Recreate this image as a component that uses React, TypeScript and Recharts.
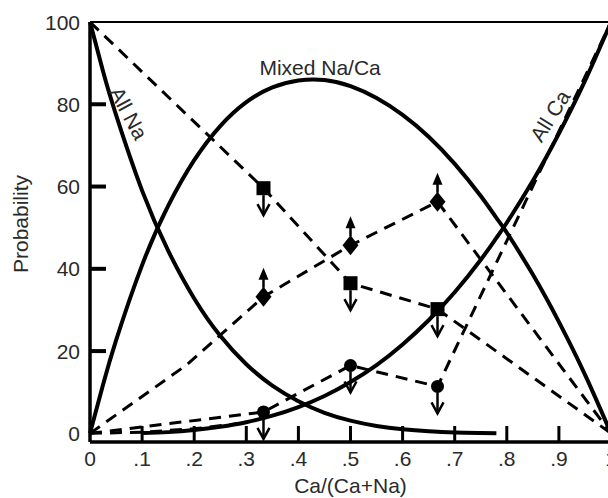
import React from 'react';
import { LineChart, Line, XAxis, YAxis, ReferenceLine, ReferenceDot } from 'recharts';

const FONT = '"Liberation Sans", Arial, Helvetica, sans-serif';
const INK = '#000';
const TEXT = '#2a2a2a';

// solid probability curves
const curveX = [0, 0.025, 0.05, 0.1, 0.15, 0.2, 0.25, 0.3, 0.35, 0.4, 0.45, 0.5, 0.55, 0.6, 0.65, 0.7, 0.75, 0.78, 0.8, 0.85, 0.9, 0.95, 1];
const allNa = [100, 88, 77.4, 59, 44.4, 32.8, 23.7, 16.8, 11.6, 7.8, 5.0, 3.1, 1.8, 1.0, 0.5, 0.2, 0.1, 0.05, null, null, null, null, null];
const mixed = [0, 11.8, 22.6, 40.9, 55.3, 66.4, 74.7, 80.5, 84.1, 85.8, 85.9, 84.4, 81.5, 77.4, 72.1, 65.5, 57.7, 52.4, 48.8, 38.6, 27.1, 14.3, 0];
const allCa = [null, null, null, 0.1, 0.3, 0.8, 1.6, 2.7, 4.3, 6.4, 9.1, 12.5, 16.6, 21.6, 27.5, 34.3, 42.2, 47.5, 51.2, 61.4, 72.9, 85.7, 100];

// measured points (dashed lines)
const markerX = [0.333, 0.5, 0.667];
const squareX = [0, 0.333, 0.5, 0.667, 1];
const squareY = [100, 59.6, 36.5, 30.2, 0];
const diamondX = [0, 0.185, 0.333, 0.5, 0.667, 1];
const diamondY = [0, 16.6, 33.2, 45.7, 56.3, 0];
const circleX = [0, 0.333, 0.5, 0.667, 1];
const circleY = [0, 5.2, 16.5, 11.4, 100];
const lowX = [0, 0.1, 0.2, 0.3];
const lowY = [0, 0.3, 1.1, 2.6];

const xTicks = [0, 0.1, 0.2, 0.3, 0.4, 0.5, 0.6, 0.7, 0.8, 0.9, 1];
const xTickLabels = ['0', '.1', '.2', '.3', '.4', '.5', '.6', '.7', '.8', '.9', '1'];
const yTicks = [0, 20, 40, 60, 80, 100];

const curveRows = curveX.map((x, i) => ({ x, na: allNa[i], mix: mixed[i], ca: allCa[i] }));
const toRows = (xs: number[], ys: number[]) => xs.map((x, i) => ({ x, y: ys[i] }));

const isMarker = (x: number) => markerX.includes(x);

function DownArrow({ cx, cy, from }: { cx: number; cy: number; from: number }) {
  return (
    <g stroke={INK} strokeWidth={2.5} fill="none">
      <line x1={cx} y1={cy + from} x2={cx} y2={cy + 27} />
      <polyline points={`${cx - 6},${cy + 16} ${cx},${cy + 27} ${cx + 6},${cy + 16}`} />
    </g>
  );
}

function renderSquare(p: any) {
  const { cx, cy, index, payload } = p;
  if (!isMarker(payload.x)) return <g key={`sq-${index}`} />;
  return (
    <g key={`sq-${index}`}>
      <rect x={cx - 7} y={cy - 7} width={14} height={14} fill={INK} />
      <DownArrow cx={cx} cy={cy} from={7} />
    </g>
  );
}

function renderCircle(p: any) {
  const { cx, cy, index, payload } = p;
  if (!isMarker(payload.x)) return <g key={`ci-${index}`} />;
  return (
    <g key={`ci-${index}`}>
      <circle cx={cx} cy={cy} r={6.5} fill={INK} />
      <DownArrow cx={cx} cy={cy} from={6} />
    </g>
  );
}

function renderDiamond(p: any) {
  const { cx, cy, index, payload } = p;
  if (!isMarker(payload.x)) return <g key={`di-${index}`} />;
  return (
    <g key={`di-${index}`}>
      <polygon points={`${cx},${cy - 10} ${cx + 8},${cy} ${cx},${cy + 10} ${cx - 8},${cy}`} fill={INK} />
      <line x1={cx} y1={cy - 9} x2={cx} y2={cy - 19} stroke={INK} strokeWidth={2.5} />
      <polygon points={`${cx - 5},${cy - 17} ${cx},${cy - 29} ${cx + 5},${cy - 17}`} fill={INK} />
    </g>
  );
}

function XTick({ x, y, payload }: any) {
  const v = payload.value;
  return (
    <g>
      {v > 0 && v < 1 && <line x1={x} x2={x} y1={y} y2={y - 16} stroke={INK} strokeWidth={3} />}
      <text x={x} y={y + 24} textAnchor="middle" fontSize={21} fontFamily={FONT} fill={TEXT}>
        {xTickLabels[Math.round(v * 10)]}
      </text>
    </g>
  );
}

function YTick({ x, y, payload }: any) {
  const v = payload.value;
  return (
    <g>
      {v > 0 && v < 100 && <line x1={x} x2={x + 16} y1={y} y2={y} stroke={INK} strokeWidth={4} />}
      <text x={x - 10} y={y + 7.5} textAnchor="end" fontSize={21} fontFamily={FONT} fill={TEXT}>
        {v}
      </text>
    </g>
  );
}

const curveLabel = (text: string, angle: number) => (p: any) => (
  <text
    x={p.cx}
    y={p.cy}
    transform={`rotate(${angle} ${p.cx} ${p.cy})`}
    textAnchor="middle"
    dominantBaseline="central"
    fontSize={21}
    fontFamily={FONT}
    fill={TEXT}
  >
    {text}
  </text>
);

export default function App() {
  return (
    <div style={{ position: 'fixed', left: 0, top: 0, width: 608, height: 498, overflow: 'hidden', background: '#fff' }}>
      <LineChart width={640} height={498} data={curveRows} margin={{ top: 22, right: 29, bottom: 0, left: 0 }}>
        <XAxis
          type="number"
          dataKey="x"
          domain={[0, 1]}
          ticks={xTicks}
          height={56}
          tickSize={0}
          tickMargin={0}
          tickLine={false}
          axisLine={{ stroke: INK, strokeWidth: 3.5 }}
          tick={<XTick />}
          label={{
            content: (props: any) => {
              const vb = props.viewBox || { x: 90, y: 442, width: 521, height: 56 };
              return (
                <text x={vb.x + vb.width / 2} y={vb.y + 51} textAnchor="middle" fontSize={21} fontFamily={FONT} fill={TEXT}>
                  Ca/(Ca+Na)
                </text>
              );
            },
          }}
        />
        <YAxis
          type="number"
          domain={[-2.1, 100]}
          ticks={yTicks}
          width={90}
          tickSize={0}
          tickMargin={0}
          tickLine={false}
          axisLine={{ stroke: INK, strokeWidth: 3.5 }}
          tick={<YTick />}
          label={{
            content: (props: any) => {
              const vb = props.viewBox || { x: 0, y: 22, width: 90, height: 420 };
              const cx = vb.x + 20;
              const cy = vb.y + 202;
              return (
                <text x={cx} y={cy} transform={`rotate(-90 ${cx} ${cy})`} textAnchor="middle" dominantBaseline="central" fontSize={21} fontFamily={FONT} fill={TEXT}>
                  Probability
                </text>
              );
            },
          }}
        />
        <ReferenceLine y={100} stroke={INK} strokeWidth={2} />

        <Line dataKey="na" type="natural" stroke={INK} strokeWidth={4} dot={false} isAnimationActive={false} />
        <Line dataKey="mix" type="natural" stroke={INK} strokeWidth={4} dot={false} isAnimationActive={false} />
        <Line dataKey="ca" type="natural" stroke={INK} strokeWidth={4} dot={false} isAnimationActive={false} />

        <Line data={toRows(lowX, lowY)} dataKey="y" type="linear" stroke={INK} strokeWidth={3} strokeDasharray="12 8" dot={false} isAnimationActive={false} />
        <Line data={toRows(squareX, squareY)} dataKey="y" type="linear" stroke={INK} strokeWidth={3} strokeDasharray="12 8" dot={renderSquare} isAnimationActive={false} />
        <Line data={toRows(diamondX, diamondY)} dataKey="y" type="linear" stroke={INK} strokeWidth={3} strokeDasharray="12 8" dot={renderDiamond} isAnimationActive={false} />
        <Line data={toRows(circleX, circleY)} dataKey="y" type="linear" stroke={INK} strokeWidth={3} strokeDasharray="12 8" dot={renderCircle} isAnimationActive={false} />

        <ReferenceDot x={0.0746} y={77.8} r={0} shape={curveLabel('All Na', 62)} />
        <ReferenceDot x={0.4417} y={89} r={0} shape={curveLabel('Mixed Na/Ca', 0)} />
        <ReferenceDot x={0.883} y={77.2} r={0} shape={curveLabel('All Ca', -58)} />
      </LineChart>
    </div>
  );
}
